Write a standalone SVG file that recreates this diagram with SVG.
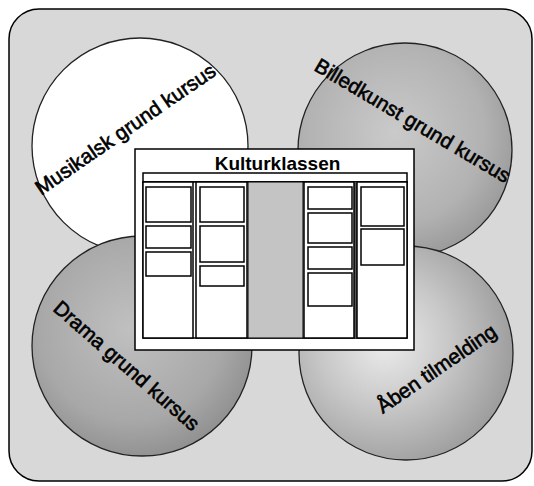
<svg xmlns="http://www.w3.org/2000/svg" width="534" height="486" viewBox="0 0 534 486">
<style>
.lbl{font-family:"Liberation Sans",Arial,sans-serif;font-size:20.5px;fill:#000;stroke:#000;stroke-width:0.6;text-anchor:middle}
.ttl{font-family:"Liberation Sans",Arial,sans-serif;font-size:19px;font-weight:bold;fill:#000;text-anchor:middle}
.circ{stroke:#222;stroke-width:1.3}
.col{fill:#fff;stroke:#000;stroke-width:1.5}
.card{fill:#fff;stroke:#000;stroke-width:1.5}
</style>
<defs>
<radialGradient id="g1" cx="45%" cy="42%" r="60%">
<stop offset="0" stop-color="#cacaca"/>
<stop offset="0.7" stop-color="#b2b2b2"/>
<stop offset="1" stop-color="#9a9a9a"/>
</radialGradient>
<radialGradient id="g2" cx="45%" cy="42%" r="60%">
<stop offset="0" stop-color="#c0c0c0"/>
<stop offset="0.7" stop-color="#a8a8a8"/>
<stop offset="1" stop-color="#909090"/>
</radialGradient>
<radialGradient id="g3" cx="40%" cy="45%" r="60%">
<stop offset="0" stop-color="#ececec"/>
<stop offset="0.5" stop-color="#c8c8c8"/>
<stop offset="1" stop-color="#9e9e9e"/>
</radialGradient>
</defs>
<rect x="0" y="0" width="534" height="486" fill="#fff"/>
<g id="frame">
<rect x="9" y="9" width="523" height="472" rx="30" ry="30" fill="#d8d8d8" stroke="#000" stroke-width="1.5"/>
</g>
<g id="musikalsk">
<circle class="circ" cx="140" cy="146" r="108" fill="#fff"/>
<text class="lbl" transform="translate(129.4,134.9) rotate(-34.6)">Musikalsk grund kursus</text>
</g>
<g id="billedkunst">
<circle class="circ" cx="405" cy="150" r="107" fill="url(#g1)"/>
<text class="lbl" transform="translate(409,126.7) rotate(30.6)">Billedkunst grund kursus</text>
</g>
<g id="drama">
<circle class="circ" cx="142" cy="346" r="110" fill="url(#g2)"/>
<text class="lbl" transform="translate(122,371) rotate(41.1)">Drama grund kursus</text>
</g>
<g id="aaben">
<circle class="circ" cx="406" cy="353" r="107" fill="url(#g3)"/>
<text class="lbl" transform="translate(440.4,374.4) rotate(-34.5)">Åben tilmelding</text>
</g>
<g id="kulturklassen">
<rect x="135" y="149" width="279" height="201" fill="#fff" stroke="#000" stroke-width="1.5"/>
<text class="ttl" x="277.5" y="170">Kulturklassen</text>
<rect x="143" y="173" width="264" height="9" fill="#fff" stroke="#000" stroke-width="1.5"/>
<rect x="143" y="182" width="264" height="156" fill="#fff" stroke="#000" stroke-width="1.5"/>
<rect x="354" y="182" width="3" height="156" fill="#555"/>
<rect class="col" x="143" y="182" width="50" height="156"/>
<rect class="col" x="196" y="182" width="51" height="156"/>
<rect x="248" y="182" width="55" height="156" fill="#c4c4c4" stroke="#000" stroke-width="1"/>
<rect class="col" x="304" y="182" width="50" height="156"/>
<rect class="col" x="357" y="182" width="50" height="156"/>
<rect class="card" x="146" y="187" width="45" height="35"/>
<rect class="card" x="146" y="226" width="45" height="22"/>
<rect class="card" x="146" y="252" width="45" height="24"/>
<rect class="card" x="200" y="187" width="44" height="35"/>
<rect class="card" x="200" y="226" width="44" height="36"/>
<rect class="card" x="200" y="266" width="44" height="20"/>
<rect class="card" x="308" y="187" width="44" height="22"/>
<rect class="card" x="308" y="213" width="44" height="30"/>
<rect class="card" x="308" y="247" width="44" height="22"/>
<rect class="card" x="308" y="273" width="44" height="33"/>
<rect class="card" x="361" y="187" width="43" height="39"/>
<rect class="card" x="361" y="229" width="43" height="36"/>
</g>
<g id="connectors"></g>
</svg>
